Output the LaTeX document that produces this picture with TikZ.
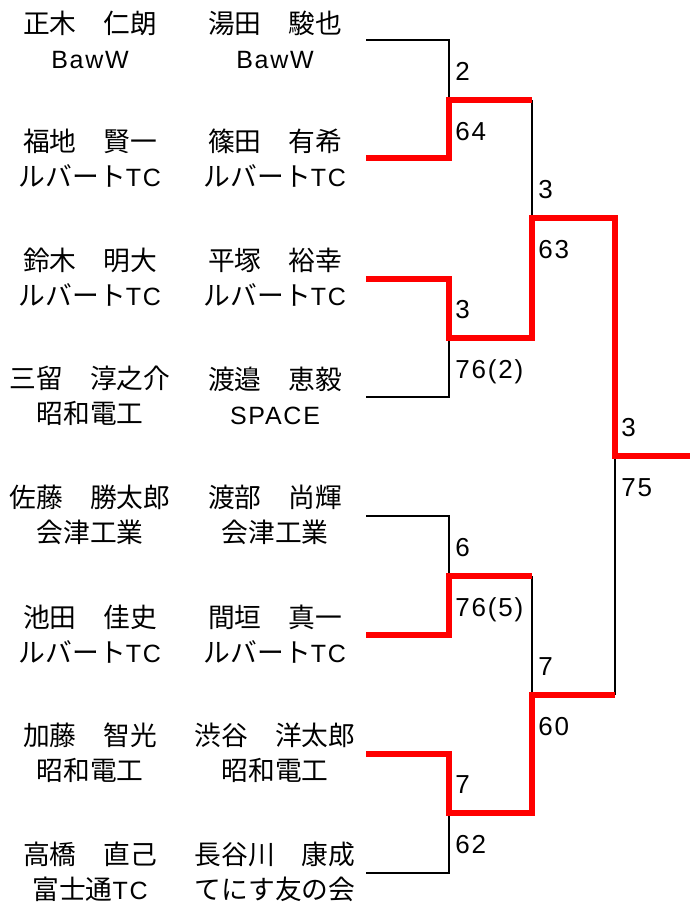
\documentclass[tikz,border=0pt]{standalone}
\usepackage{fontspec}
\usetikzlibrary{calc}
\setmainfont[LetterSpace=7]{Liberation Sans}
\newfontfamily\jp[Scale=1.07]{Noto Sans CJK JP}
\tikzset{
  pl/.style={align=center,inner sep=0pt,font=\fontsize{18.75}{26.25}\selectfont},
  sc/.style={anchor=base west,inner sep=0pt,font=\fontsize{19.5}{22}\selectfont},
  lose/.style={line width=1.6pt},
  win/.style={red,line width=4.9pt}
}

\begin{document}
\begin{tikzpicture}[x=0.75pt,y=-0.75pt]
  \useasboundingbox (0,0) rectangle (690,907);
  % pairs
  \node[pl] (a1) at (90,39.5) {{\jp 正木　仁朗}\\BawW};
  \node[pl] (b1) at (275,39.5) {{\jp 湯田　駿也}\\BawW};
  \node[pl] (a2) at (90,158) {{\jp 福地　賢一}\\{\jp ルバート}TC};
  \node[pl] (b2) at (275,158) {{\jp 篠田　有希}\\{\jp ルバート}TC};
  \node[pl] (a3) at (90,277) {{\jp 鈴木　明大}\\{\jp ルバート}TC};
  \node[pl] (b3) at (275,277) {{\jp 平塚　裕幸}\\{\jp ルバート}TC};
  \node[pl] (a4) at (90,396) {{\jp 三留　淳之介}\\{\jp 昭和電工}};
  \node[pl] (b4) at (275,396) {{\jp 渡邉　恵毅}\\SPACE};
  \node[pl] (a5) at (90,515) {{\jp 佐藤　勝太郎}\\{\jp 会津工業}};
  \node[pl] (b5) at (275,515) {{\jp 渡部　尚輝}\\{\jp 会津工業}};
  \node[pl] (a6) at (90,634) {{\jp 池田　佳史}\\{\jp ルバート}TC};
  \node[pl] (b6) at (275,634) {{\jp 間垣　真一}\\{\jp ルバート}TC};
  \node[pl] (a7) at (90,753) {{\jp 加藤　智光}\\{\jp 昭和電工}};
  \node[pl] (b7) at (275,753) {{\jp 渋谷　洋太郎}\\{\jp 昭和電工}};
  \node[pl] (a8) at (90,872) {{\jp 高橋　直己}\\{\jp 富士通}TC};
  \node[pl] (b8) at (275,872) {{\jp 長谷川　康成}\\{\jp てにす友の会}};
  % bracket points
  \coordinate (e1) at (366,40);
  \coordinate (e2) at (366,158);
  \coordinate (e3) at (366,279);
  \coordinate (e4) at (366,397);
  \coordinate (e5) at (366,516);
  \coordinate (e6) at (366,635);
  \coordinate (e7) at (366,754);
  \coordinate (e8) at (366,873);
  \coordinate (m1) at (449,100);
  \coordinate (m2) at (449,338);
  \coordinate (m3) at (449,576);
  \coordinate (m4) at (449,813);
  \coordinate (s1) at (532,218);
  \coordinate (s2) at (532,695);
  \coordinate (f) at (615,456);
  \coordinate (w) at (690,456);
  % losers
  \draw[lose] (e1) -| (m1);
  \draw[lose] (e4) -| (m2);
  \draw[lose] (e5) -| (m3);
  \draw[lose] (e8) -| (m4);
  \draw[lose] (m1 -| s1) -- (s1);
  \draw[lose] (m3 -| s2) -- (s2);
  \draw[lose] (s2 -| f) -- (f);
  % winners
  \draw[win] (e2) -| (m1) -- (m1 -| s1);
  \draw[win] (e6) -| (m3) -- (m3 -| s2);
  \draw[win] (e7) -| (m4) -| (s2) -- (s2 -| f);
  \draw[win] (e3) -| (m2) -| (s1) -| (f) -- (w);
  % scores
  \node[sc] (t1) at ($(m1)+(6,-20)$) {2};
  \node[sc] (u1) at ($(m1)+(6,40)$) {64};
  \node[sc] (t2) at ($(m2)+(6,-20)$) {3};
  \node[sc] (u2) at ($(m2)+(6,40)$) {76(2)};
  \node[sc] (t3) at ($(m3)+(6,-20)$) {6};
  \node[sc] (u3) at ($(m3)+(6,40)$) {76(5)};
  \node[sc] (t4) at ($(m4)+(6,-20)$) {7};
  \node[sc] (u4) at ($(m4)+(6,40)$) {62};
  \node[sc] (t5) at ($(s1)+(6,-20)$) {3};
  \node[sc] (u5) at ($(s1)+(6,40)$) {63};
  \node[sc] (t6) at ($(s2)+(6,-20)$) {7};
  \node[sc] (u6) at ($(s2)+(6,40)$) {60};
  \node[sc] (t7) at ($(f)+(6,-20)$) {3};
  \node[sc] (u7) at ($(f)+(6,40)$) {75};
\end{tikzpicture}
\end{document}
